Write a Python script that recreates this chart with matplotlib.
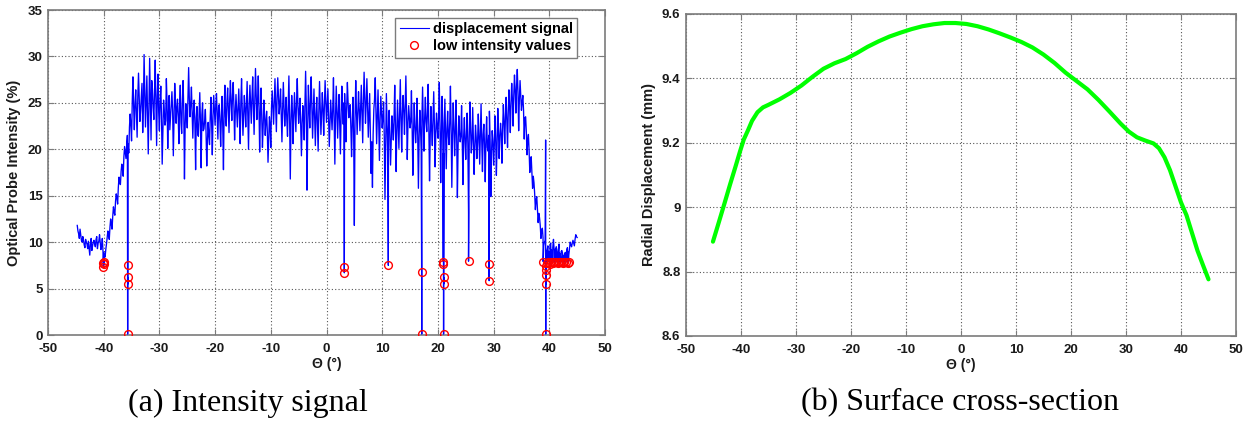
import numpy as np
import matplotlib
matplotlib.use("Agg")
import matplotlib.pyplot as plt
from matplotlib.ticker import FuncFormatter

# ---------------------------------------------------------------------------
# (a) optical probe intensity
#     main samples every 0.25 deg from -44.75 to 45.0, interleaved samples
#     half a step later
# ---------------------------------------------------------------------------
theta_start = -44.75
theta_step = 0.25
intensity = [
    11.8, 10.9, 11.4, 10.2,  10.6, 9.7, 10.3, 9.8,      # -44, -43
    10.1, 8.6, 10.4, 9.6,    10.2, 9.5, 10.6, 9.9,      # -42, -41
    10.8, 9.2, 10.4, 8.9,    8.4, 9.8, 11.2, 10.3,      # -40, -39
    12.5, 11.4, 13.8, 12.9,  15.2, 14.1, 17.0, 16.2,    # -38, -37
    18.4, 17.1, 20.3, 19.0,  21.5, 19.6, 23.8, 20.9,    # -36, -35
    27.8, 22.1, 26.4, 21.3,  28.2, 23.0, 25.7, 21.8,    # -34, -33
    30.2, 22.4, 27.9, 19.5,  29.8, 21.0, 26.5, 23.2,    # -32, -31
    29.6, 20.4, 28.1, 22.0,  26.8, 18.4, 25.3, 22.6,    # -30, -29
    27.6, 20.1, 25.8, 23.4,  26.2, 19.3, 27.1, 22.8,    # -28, -27
    25.4, 20.6, 26.9, 21.7,  27.4, 16.8, 24.9, 22.3,    # -26, -25
    28.8, 23.5, 26.7, 21.2,  25.3, 17.8, 24.6, 21.4,    # -24, -23
    26.1, 18.0, 25.0, 22.2,  24.3, 18.2, 22.9, 20.5,    # -22, -21
    25.6, 19.4, 25.8, 22.6,  26.0, 21.1, 24.8, 20.3,    # -20, -19
    25.7, 17.8, 26.9, 22.5,  26.6, 21.8, 27.4, 23.1,    # -18, -17
    27.2, 21.0, 25.9, 22.4,  26.5, 20.6, 27.6, 21.5,    # -16, -15
    25.8, 22.4, 27.3, 20.0,  26.9, 22.8, 27.8, 21.6,    # -14, -13
    28.7, 23.2, 27.9, 19.7,  26.6, 20.2, 25.3, 21.5,    # -12, -11
    24.1, 18.6, 23.5, 20.2,  26.3, 22.7, 27.6, 21.9,    # -10, -9
    27.7, 23.8, 26.5, 20.8,  27.2, 22.5, 25.6, 21.4,    # -8, -7
    27.9, 16.8, 25.8, 20.6,  26.1, 21.9, 27.6, 22.8,    # -6, -5
    25.5, 19.3, 24.7, 21.0,  28.4, 15.6, 26.9, 22.3,    # -4, -3
    27.8, 21.2, 26.5, 20.4,  25.6, 19.8, 27.3, 21.6,    # -2, -1
    26.1, 21.5, 27.4, 22.9,  26.5, 20.3, 25.3, 22.1,    # 0, 1
    27.7, 18.4, 26.8, 21.2,  25.9, 19.5, 26.8, 22.7,    # 2, 3
    26.0, 20.8, 27.2, 23.4,  24.8, 19.2, 25.6, 11.8,    # 4, 5
    27.4, 21.6, 26.2, 22.0,  26.9, 20.7, 28.3, 22.8,    # 6, 7
    27.6, 21.3, 26.0, 17.4,  15.9, 24.3, 27.7, 20.6,    # 8, 9
    26.4, 18.8, 25.7, 22.3,  25.1, 14.6, 26.0, 19.2,    # 10, 11
    24.2, 18.3, 23.6, 21.0,  26.9, 17.6, 25.3, 20.1,    # 12, 13
    27.5, 19.7, 25.8, 21.6,  27.9, 18.9, 24.7, 22.3,    # 14, 15
    26.3, 17.2, 25.0, 20.7,  25.5, 15.8, 24.2, 19.9,    # 16, 17
    26.7, 19.8, 25.6, 21.9,  27.0, 16.6, 24.6, 20.4,    # 18, 19
    26.2, 18.1, 23.9, 21.2,  27.2, 16.4, 25.7, 19.6,    # 20, 21
    25.4, 17.9, 24.1, 20.5,  26.8, 15.9, 25.0, 19.3,    # 22, 23
    25.3, 14.8, 23.6, 20.8,  24.7, 16.2, 23.4, 18.9,    # 24, 25
    23.9, 13.2, 25.1, 19.6,  24.5, 17.3, 22.6, 19.0,    # 26, 27
    23.8, 18.4, 24.9, 17.6,  22.7, 16.5, 23.5, 19.8,    # 28, 29
    24.1, 14.9, 22.0, 18.3,  23.6, 17.2, 24.4, 19.0,    # 30, 31
    22.8, 18.5, 24.8, 20.6,  25.6, 20.2, 26.4, 21.8,    # 32, 33
    27.1, 22.5, 28.0, 23.9,  28.6, 22.0, 27.4, 24.2,    # 34, 35
    25.8, 21.1, 23.5, 19.4,  21.6, 17.5, 19.2, 15.8,    # 36, 37
    16.4, 13.5, 14.9, 12.1,  12.6, 10.4, 11.5, 9.6,     # 38, 39
    10.2, 8.3, 9.6, 8.8,     9.9, 8.4, 10.3, 8.6,       # 40, 41
    9.5, 8.2, 9.8, 8.5,      9.1, 8.3, 8.7, 8.4,        # 42, 43
    9.4, 8.6, 10.0, 9.5,     10.2, 9.6, 10.8, 10.5,     # 44, 45
]

intensity_mid = [
    11.2, 10.4, 10.8, 10.0,  10.2, 9.4, 10.0, 9.3,      # -44, -43
    9.4, 9.9, 9.1, 10.0,     9.8, 10.3, 9.3, 10.1,      # -42, -41
    10.0, 9.6, 9.0, 8.6,     9.2, 10.5, 10.8, 11.6,     # -40, -39
    11.9, 12.8, 13.2, 14.4,  14.8, 15.9, 16.4, 17.6,    # -38, -37
    17.9, 19.2, 19.6, 20.4,  20.6, 22.4, 22.6, 25.1,    # -36, -35
    24.6, 24.9, 23.8, 25.7,  25.4, 24.2, 27.1, 24.6,    # -34, -33
    26.3, 25.1, 23.9, 24.4,  25.2, 27.4, 24.5, 26.1,    # -32, -31
    24.8, 25.7, 24.0, 25.2,  23.6, 21.9, 24.2, 23.1,    # -30, -29
    25.0, 23.8, 22.1, 24.7,  24.1, 23.0, 25.2, 24.4,    # -28, -27
    23.5, 24.8, 22.9, 25.0,  24.2, 22.6, 23.9, 25.6,    # -26, -25
    25.4, 24.9, 23.8, 24.0,  22.7, 23.4, 21.6, 23.9,    # -24, -23
    22.8, 23.7, 22.0, 23.1,  21.8, 20.9, 21.5, 23.4,    # -22, -21
    22.9, 23.6, 24.2, 24.8,  23.7, 24.6, 22.8, 23.5,    # -20, -19
    22.4, 24.2, 23.5, 25.1,  24.3, 25.4, 24.9, 25.8,    # -18, -17
    24.7, 23.9, 24.1, 24.5,  23.8, 25.1, 24.2, 23.6,    # -16, -15
    24.3, 25.0, 23.4, 24.8,  24.9, 25.6, 24.7, 25.3,    # -14, -13
    25.9, 25.1, 24.6, 23.8,  23.6, 22.4, 23.7, 23.0,    # -12, -11
    21.9, 21.2, 22.6, 24.5,  24.4, 25.2, 24.6, 25.5,    # -10, -9
    25.8, 24.9, 23.7, 24.3,  24.6, 23.9, 23.2, 24.8,    # -8, -7
    23.4, 22.8, 24.1, 23.6,  23.9, 25.2, 24.6, 24.3,    # -6, -5
    22.4, 22.9, 23.1, 24.6,  24.5, 22.1, 24.4, 25.3,    # -4, -3
    24.6, 23.9, 23.2, 23.8,  22.6, 24.1, 24.5, 24.0,    # -2, -1
    24.2, 24.8, 25.1, 24.6,  23.5, 22.9, 23.8, 24.4,    # 0, 1
    23.1, 23.6, 24.1, 23.9,  22.8, 23.7, 24.4, 25.0,    # 2, 3
    23.6, 24.5, 25.1, 23.8,  22.3, 22.9, 21.8, 23.4,    # 4, 5
    24.1, 23.9, 24.3, 24.6,  23.9, 25.2, 25.6, 24.9,    # 6, 7
    24.7, 23.5, 21.9, 20.8,  21.6, 25.4, 24.1, 23.7,    # 8, 9
    22.9, 23.2, 24.0, 23.4,  21.3, 20.6, 22.8, 22.1,    # 10, 11
    21.5, 20.9, 22.4, 23.3,  22.6, 21.9, 22.7, 23.6,    # 12, 13
    23.2, 23.9, 24.1, 24.8,  23.9, 22.7, 23.5, 23.0,    # 14, 15
    22.4, 21.8, 22.6, 22.2,  21.6, 21.2, 22.3, 23.1,    # 16, 17
    22.9, 23.4, 23.0, 23.9,  22.3, 21.5, 22.1, 23.2,    # 18, 19
    22.6, 21.8, 22.4, 23.6,  22.4, 21.7, 22.8, 21.9,    # 20, 21
    21.8, 22.2, 21.4, 22.9,  22.1, 21.5, 22.4, 21.8,    # 22, 23
    21.2, 20.3, 21.9, 21.4,  20.8, 21.4, 20.9, 21.7,    # 24, 25
    20.6, 21.2, 22.0, 21.1,  20.9, 20.2, 21.3, 20.7,    # 26, 27
    21.4, 21.9, 20.8, 21.6,  20.4, 21.1, 20.2, 21.5,    # 28, 29
    20.8, 19.6, 20.9, 20.4,  21.2, 20.5, 21.9, 21.4,    # 30, 31
    21.6, 22.3, 22.9, 23.4,  23.1, 23.8, 24.6, 25.0,    # 32, 33
    25.4, 25.9, 26.3, 26.8,  26.2, 25.4, 25.8, 25.1,    # 34, 35
    24.2, 23.4, 21.9, 21.0,  19.8, 19.0, 17.6, 17.1,    # 36, 37
    15.2, 14.6, 13.4, 13.1,  11.8, 11.2, 10.5, 10.0,    # 38, 39
    9.1, 9.2, 9.0, 9.6,      9.2, 9.4, 9.1, 9.3,        # 40, 41
    8.9, 9.2, 8.8, 9.0,      8.8, 8.6, 8.9, 9.1,        # 42, 43
    9.0, 9.3, 9.7, 9.9,      9.9, 10.3, 10.6,           # 44, 45
]

# short dropouts / transients recorded between the regular samples
event_theta = [
    -40.10, -40.05, -39.95, -39.90,
    -35.72, -35.70, -35.68, -35.66,
    3.18, 3.20,
    11.10,
    17.08, 17.10,
    20.98, 21.00, 21.02, 21.04, 21.06,
    25.50,
    29.18, 29.20,
    38.90, 39.34, 39.35, 39.36, 39.37, 39.38, 39.39,
    39.60, 39.85, 40.10, 40.35, 40.60, 40.90, 41.20, 41.50,
    41.80, 42.10, 42.40, 42.70, 43.00, 43.30, 43.45,
]
event_value = [
    7.8, 7.3, 7.6, 7.9,
    7.5, 0.1, 6.2, 5.5,
    7.3, 6.7,
    7.5,
    6.8, 0.1,
    7.9, 7.7, 0.1, 6.2, 5.5,
    7.95,
    7.7, 5.85,
    7.9, 21.0, 7.45, 0.1, 7.05, 6.5, 5.5,
    7.8, 7.9, 7.6, 7.85, 7.8, 7.9, 7.85, 7.8,
    7.9, 7.85, 7.8, 7.9, 7.85, 7.8, 7.9,
]
low_threshold = 8.0

# ---------------------------------------------------------------------------
# (b) reconstructed surface cross-section
# ---------------------------------------------------------------------------
surf_theta = [-45.1, -44, -43, -42, -41, -40.2, -39.5, -38.7, -38, -37, -36,
              -35, -33, -31, -29, -27, -25, -23, -21, -19, -17, -15, -13,
              -11, -9, -7, -5, -3, -1, 1, 3, 5, 7, 9, 11, 13, 15, 17, 19,
              21, 23, 25, 27, 29, 30.5, 32, 33.5, 35, 36, 37, 38, 39, 40,
              41, 42, 43, 44, 45]
surf_disp = [8.893, 8.955, 9.012, 9.070, 9.126, 9.172, 9.210, 9.240, 9.268,
             9.295, 9.310, 9.318, 9.335, 9.355, 9.378, 9.405, 9.430, 9.447,
             9.460, 9.478, 9.498, 9.515, 9.530, 9.542, 9.553, 9.562, 9.568,
             9.572, 9.572, 9.569, 9.562, 9.552, 9.540, 9.527, 9.513, 9.496,
             9.474, 9.448, 9.418, 9.392, 9.366, 9.333, 9.297, 9.260, 9.235,
             9.217, 9.207, 9.198, 9.183, 9.155, 9.115, 9.065, 9.015, 8.975,
             8.920, 8.865, 8.820, 8.776]

x_ticks = [-50, -40, -30, -20, -10, 0, 10, 20, 30, 40, 50]
ya_ticks = [0, 5, 10, 15, 20, 25, 30, 35]
yb_ticks = [8.6, 8.8, 9.0, 9.2, 9.4, 9.6]

# ---------------------------------------------------------------------------
sans = ["Liberation Sans", "DejaVu Sans"]
serif = ["Liberation Serif", "DejaVu Serif"]
plt.rcParams["font.family"] = sans
plt.rcParams["font.weight"] = "bold"
plt.rcParams["axes.unicode_minus"] = False

W, H = 1248, 425
fig = plt.figure(figsize=(W / 100, H / 100), dpi=100)

ax_a = fig.add_axes([48 / W, 1 - 335 / H, 557 / W, 325 / H])
ax_b = fig.add_axes([686 / W, 1 - 336 / H, 550 / W, 322 / H])

theta_main = theta_start + theta_step * np.arange(len(intensity))
theta_mid = theta_start + theta_step / 2 + theta_step * np.arange(len(intensity_mid))
theta_all = np.concatenate([theta_main, theta_mid, event_theta])
value_all = np.concatenate([intensity, intensity_mid, event_value])
order = np.argsort(theta_all, kind="stable")
theta_all = theta_all[order]
value_all = value_all[order]
low = value_all < low_threshold

ax_a.plot(theta_all, value_all, color="#0000ff", lw=0.95,
          label="displacement signal", zorder=3)
ax_a.plot(theta_all[low], value_all[low], linestyle="none", marker="o",
          ms=5.6, mfc="none", mec="#ff0000", mew=1.0,
          label="low intensity values", zorder=4)

ax_b.plot(surf_theta, surf_disp, color="#00ff00", lw=3.0, zorder=3,
          solid_capstyle="round", solid_joinstyle="round")

spine_col = "#7c7c7c"
text_col = "#1a1a1a"
for ax in (ax_a, ax_b):
    ax.set_xlim(-50, 50)
    ax.set_xticks(x_ticks)
    ax.grid(True, linestyle=(0, (1, 2)), color="#555555", lw=0.8)
    ax.set_axisbelow(True)
    for s in ax.spines.values():
        s.set_color(spine_col)
        s.set_linewidth(1.2)
    ax.tick_params(direction="in", length=4, width=0.8, color=spine_col,
                   top=True, right=True, labelsize=9.5, labelcolor=text_col)
    ax.tick_params(axis="x", pad=5.5)
    ax.tick_params(axis="y", pad=4)
    for lab in ax.get_xticklabels() + ax.get_yticklabels():
        lab.set_fontweight("bold")
    ax.set_xlabel("Θ (°)", fontsize=10, fontweight="bold", color=text_col,
                  labelpad=2)

ax_a.set_ylim(0, 35)
ax_a.set_yticks(ya_ticks)
ax_a.set_ylabel("Optical Probe Intensity (%)", fontsize=10.5,
                fontweight="bold", color=text_col)
ax_a.yaxis.set_label_coords(-0.048, 0.5)

ax_b.set_ylim(8.6, 9.6)
ax_b.set_yticks(yb_ticks)
ax_b.yaxis.set_major_formatter(FuncFormatter(lambda v, p: f"{v:g}"))
ax_b.set_ylabel("Radial Displacement (mm)", fontsize=10.5,
                fontweight="bold", color=text_col)
ax_b.yaxis.set_label_coords(-0.054, 0.5)

leg = ax_a.legend(loc="upper right", bbox_to_anchor=(0.9497, 0.9754),
                  borderaxespad=0, fancybox=False, framealpha=1,
                  edgecolor=spine_col, handlelength=2.0, handletextpad=0.25,
                  borderpad=0.3, labelspacing=0.2,
                  prop={"size": 10.5, "weight": "bold"})
leg.get_frame().set_linewidth(1.0)
leg.get_lines()[0].set_linewidth(0.8)

fig.text(248 / W, 1 - 403 / H, "(a) Intensity signal", family=serif,
         fontsize=23, fontweight="normal", ha="center", va="center")
fig.text(960 / W, 1 - 403 / H, "(b) Surface cross-section", family=serif,
         fontsize=23, fontweight="normal", ha="center", va="center")

fig.savefig("out.png", dpi=100)
